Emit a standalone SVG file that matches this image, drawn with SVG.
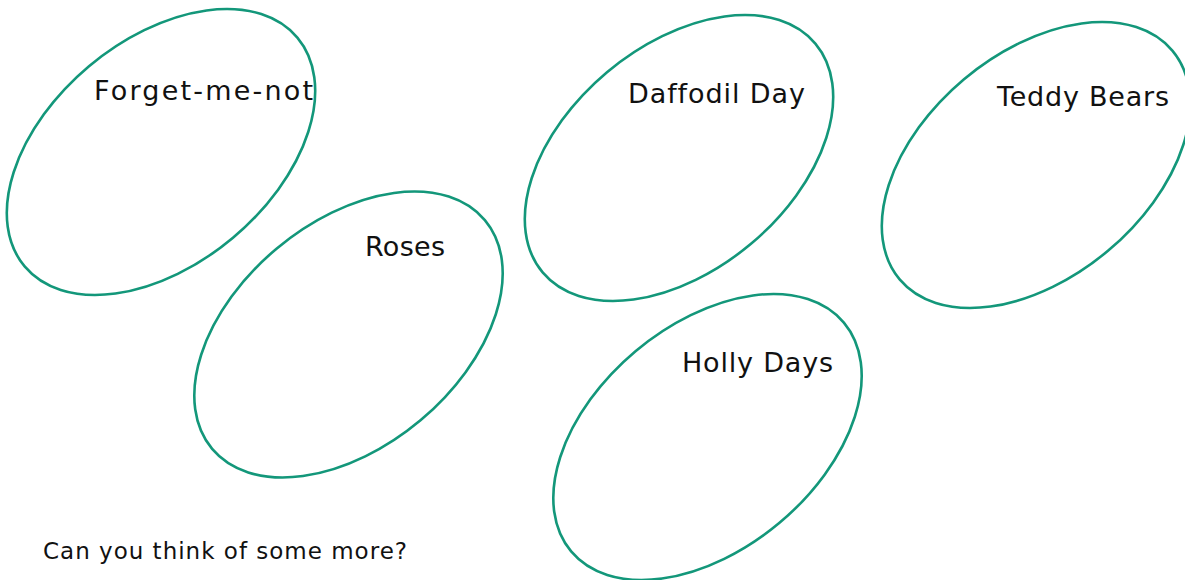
<svg xmlns="http://www.w3.org/2000/svg" width="1185" height="580" viewBox="0 0 1185 580">
<style>
.oval{fill:none;stroke:#13977a;stroke-width:2.6}
text{font-variant-ligatures:none;font-feature-settings:"liga" 0}
.lbl{font-family:"DejaVu Sans","Liberation Sans",sans-serif;font-size:27px;fill:#111}
.note{font-family:"DejaVu Sans","Liberation Sans",sans-serif;font-size:23px;fill:#111}
</style>
<rect width="1185" height="580" fill="#fff"/>
<g id="forget-me-not">
<ellipse class="oval" cx="161" cy="152" rx="178" ry="112" transform="rotate(-40 161 152)"/>
<text class="lbl" x="94" y="100" textLength="219" lengthAdjust="spacing">Forget-me-not</text>
</g>
<g id="roses">
<ellipse class="oval" cx="348.5" cy="334.5" rx="178" ry="112" transform="rotate(-40 348.5 334.5)"/>
<text class="lbl" x="365" y="256" textLength="80" lengthAdjust="spacing">Roses</text>
</g>
<g id="daffodil-day">
<ellipse class="oval" cx="679" cy="158" rx="178" ry="112" transform="rotate(-40 679 158)"/>
<text class="lbl" x="628" y="103" textLength="177" lengthAdjust="spacing">Daffodil Day</text>
</g>
<g id="teddy-bears">
<ellipse class="oval" cx="1036" cy="165" rx="178" ry="112" transform="rotate(-40 1036 165)"/>
<text class="lbl" x="997" y="106" textLength="172" lengthAdjust="spacing">Teddy Bears</text>
</g>
<g id="holly-days">
<ellipse class="oval" cx="707.5" cy="437" rx="178" ry="112" transform="rotate(-40 707.5 437)"/>
<text class="lbl" x="682" y="372" textLength="151" lengthAdjust="spacing">Holly Days</text>
</g>
<g id="connectors"></g>
<text class="note" x="43" y="559" textLength="364" lengthAdjust="spacing">Can you think of some more?</text>
</svg>
